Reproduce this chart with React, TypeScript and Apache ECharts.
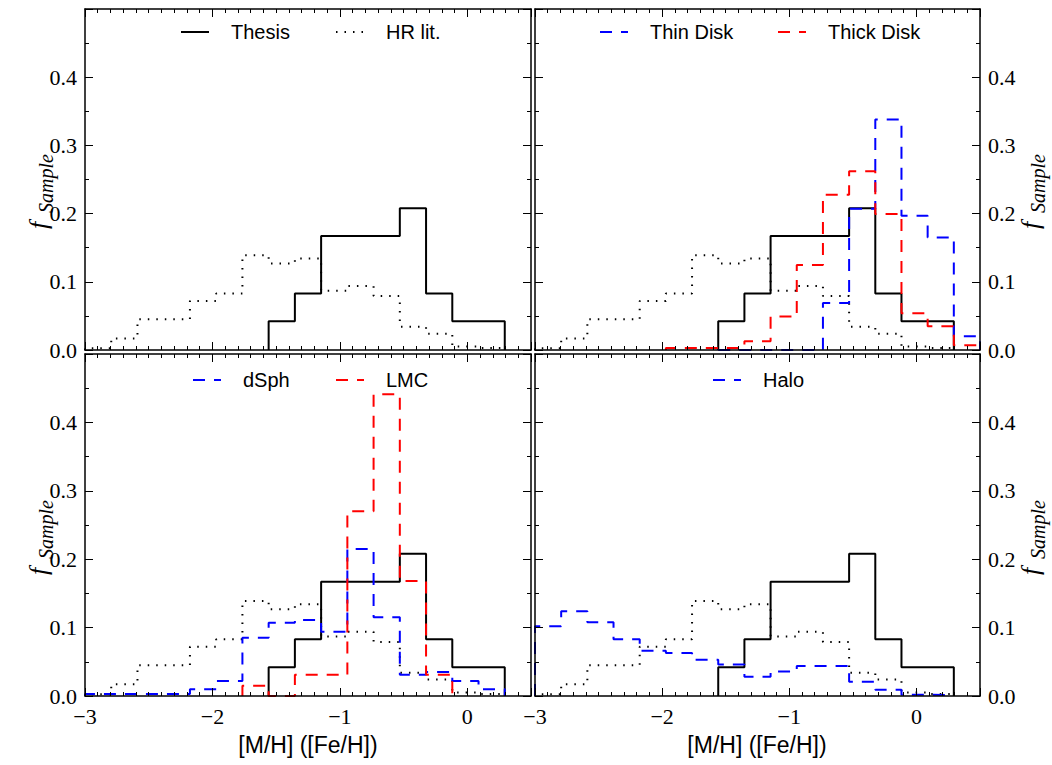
import React, { useEffect, useRef } from "react";
import * as echarts from "echarts";

// Histogram binning: 17 equal bins over [-3, 0.5]
const X_MIN = -3;
const X_MAX = 0.5;
const N_BINS = 17;

// bin values (fraction of sample); *_START = index of first drawn bin
const THESIS_START = 7;
const thesis = [0.042, 0.083, 0.167, 0.167, 0.167, 0.208, 0.083, 0.042, 0.042];

const HR_START = 0;
const hrLit = [0.0025, 0.017, 0.045, 0.045, 0.072, 0.083, 0.139, 0.127, 0.134, 0.087, 0.094, 0.079, 0.034, 0.024, 0.005, 0.003];

const THIN_START = 7;
const thinDisk = [0, 0, 0, 0, 0.069, 0.207, 0.338, 0.197, 0.165, 0.02];

const THICK_START = 5;
const thickDisk = [0.003, 0.003, 0.003, 0.013, 0.049, 0.1245, 0.2275, 0.262, 0.1995, 0.054, 0.035, 0.007];

const DSPH_START = 0;
const dSph = [0.003, 0.003, 0.003, 0.003, 0.01, 0.022, 0.085, 0.107, 0.111, 0.094, 0.215, 0.115, 0.031, 0.035, 0.022, 0.01];

const LMC_START = 6;
const lmc = [0.015, 0, 0.031, 0.031, 0.27, 0.441, 0.168, 0.031];

const HALO_START = 0;
const halo = [0.102, 0.124, 0.108, 0.083, 0.066, 0.063, 0.053, 0.046, 0.028, 0.036, 0.044, 0.044, 0.021, 0.009, 0.002, 0.001];

const xTickLabels = ["\u22123", "\u22122", "\u22121", "0"];
const yTickLabels = ["0.0", "0.1", "0.2", "0.3", "0.4"];
const X_NAME = "[M/H] ([Fe/H])";

const BIN_W = (X_MAX - X_MIN) / N_BINS;
const edge = (k: number) => X_MIN + k * BIN_W;

function stepPoints(start: number, values: number[]) {
  const pts: number[][] = [[edge(start), 0]];
  values.forEach((v, i) => {
    pts.push([edge(start + i), v]);
    pts.push([edge(start + i + 1), v]);
  });
  pts.push([edge(start + values.length), 0]);
  return pts;
}

const GRIDS = [
  { left: 85, top: 9, width: 446, height: 341 },
  { left: 535, top: 9, width: 445, height: 341 },
  { left: 85, top: 354, width: 446, height: 342 },
  { left: 535, top: 354, width: 445, height: 342 },
];

const SERIF = "'Liberation Serif', 'Times New Roman', serif";
const SANS = "'Liberation Sans', Arial, sans-serif";

function xFmt(v: number) {
  const i = Math.round(v);
  if (Math.abs(v - i) > 1e-6) return "";
  const idx = i - X_MIN;
  return xTickLabels[idx] ?? "";
}
function yFmt(v: number) {
  const idx = Math.round(v * 10);
  if (Math.abs(v * 10 - idx) > 1e-6) return "";
  return yTickLabels[idx] ?? "";
}

function buildAxes() {
  const xAxis: any[] = [];
  const yAxis: any[] = [];
  for (let g = 0; g < 4; g++) {
    const bottomRow = g >= 2;
    const rightCol = g % 2 === 1;
    const base = {
      gridIndex: g,
      type: "value",
      z: 10,
      splitLine: { show: false },
      axisLine: { show: true, onZero: false, lineStyle: { color: "#000", width: 1.5 } },
    };
    const tick = (len: number) => ({ show: true, inside: true, length: len, lineStyle: { color: "#000", width: 1 } });
    for (const pos of ["bottom", "top"]) {
      xAxis.push({
        ...base,
        position: pos,
        min: X_MIN,
        max: X_MAX,
        interval: 1,
        axisTick: tick(8),
        axisLabel: {
          show: pos === "bottom" && bottomRow,
          margin: 9,
          fontFamily: SERIF,
          fontSize: 22,
          color: "#000",
          formatter: xFmt,
        },
      });
      xAxis.push({
        ...base,
        position: pos,
        min: X_MIN,
        max: X_MAX,
        interval: 0.1,
        axisLine: { show: false, onZero: false },
        axisTick: tick(4),
        axisLabel: { show: false },
      });
    }
    for (const pos of ["left", "right"]) {
      yAxis.push({
        ...base,
        position: pos,
        min: 0,
        max: 0.5,
        interval: 0.1,
        axisTick: tick(8),
        axisLabel: {
          show: (pos === "left" && !rightCol) || (pos === "right" && rightCol),
          margin: 8,
          fontFamily: SERIF,
          fontSize: 22,
          color: "#000",
          formatter: yFmt,
        },
      });
      yAxis.push({
        ...base,
        position: pos,
        min: 0,
        max: 0.5,
        interval: 0.05,
        axisLine: { show: false, onZero: false },
        axisTick: tick(4),
        axisLabel: { show: false },
      });
    }
  }
  return { xAxis, yAxis };
}

const SOLID = { color: "#000", width: 2, type: "solid" };
const DOTTED = { color: "#000", width: 2, type: [1.5, 7] };
const DASH = [12, 9];

function histSeries(g: number, name: string, start: number, values: number[], lineStyle: any) {
  return {
    type: "line",
    name,
    xAxisIndex: g * 4,
    yAxisIndex: g * 4,
    data: stepPoints(start, values),
    showSymbol: false,
    symbol: "none",
    silent: true,
    z: 2,
    lineStyle,
  };
}

function legendItem(x: number, y: number, label: string, stroke: string, dash: any, width: number) {
  return [
    {
      type: "line",
      shape: { x1: x, y1: y, x2: x + 28, y2: y },
      style: { stroke, lineWidth: width, lineDash: dash },
      silent: true,
    },
    {
      type: "text",
      x: x + 50,
      y,
      style: {
        text: label,
        fontSize: 20,
        fontFamily: SANS,
        fill: "#000",
        align: "left",
        verticalAlign: "middle",
        textAlign: "left",
        textVerticalAlign: "middle",
      },
      silent: true,
    },
  ];
}

function yName(cx: number, cy: number) {
  return {
    type: "group",
    x: cx,
    y: cy,
    rotation: Math.PI / 2,
    silent: true,
    children: [
      {
        type: "text",
        x: -47,
        y: 0,
        style: {
          text: "f",
          fontSize: 26,
          fontStyle: "italic",
          fontFamily: SERIF,
          fill: "#000",
          align: "left",
          verticalAlign: "middle",
          textAlign: "left",
          textVerticalAlign: "middle",
        },
      },
      {
        type: "text",
        x: -31,
        y: 8,
        style: {
          text: "Sample",
          fontSize: 20,
          fontStyle: "italic",
          fontFamily: SERIF,
          fill: "#000",
          align: "left",
          verticalAlign: "middle",
          textAlign: "left",
          textVerticalAlign: "middle",
        },
      },
    ],
  };
}

function xName(cx: number, cy: number) {
  return {
    type: "text",
    x: cx,
    y: cy,
    silent: true,
    style: {
      text: X_NAME,
      fontSize: 23,
      fontFamily: SANS,
      fill: "#000",
      align: "center",
      verticalAlign: "middle",
      textAlign: "center",
      textVerticalAlign: "middle",
    },
  };
}

export default function App() {
  const ref = useRef<HTMLDivElement>(null);
  useEffect(() => {
    if (!ref.current) return;
    const chart = echarts.init(ref.current, null, { renderer: "svg" });
    const { xAxis, yAxis } = buildAxes();
    const series: any[] = [];
    for (let g = 0; g < 4; g++) {
      series.push(histSeries(g, "Thesis", THESIS_START, thesis, SOLID));
      series.push(histSeries(g, "HR lit.", HR_START, hrLit, DOTTED));
    }
    series.push(histSeries(1, "Thin Disk", THIN_START, thinDisk, { color: "#0000ff", width: 2, type: DASH }));
    series.push(histSeries(1, "Thick Disk", THICK_START, thickDisk, { color: "#ff0000", width: 2, type: DASH }));
    series.push(histSeries(2, "dSph", DSPH_START, dSph, { color: "#0000ff", width: 2, type: DASH }));
    series.push(histSeries(2, "LMC", LMC_START, lmc, { color: "#ff0000", width: 2, type: DASH }));
    series.push(histSeries(3, "Halo", HALO_START, halo, { color: "#0000ff", width: 2, type: DASH }));

    const graphic: any[] = [
      ...legendItem(181, 32, "Thesis", "#000", null, 2),
      ...legendItem(336, 32, "HR lit.", "#000", [1.5, 7], 2),
      ...legendItem(600, 32, "Thin Disk", "#0000ff", DASH, 2),
      ...legendItem(778, 32, "Thick Disk", "#ff0000", DASH, 2),
      ...legendItem(193, 380, "dSph", "#0000ff", DASH, 2),
      ...legendItem(336, 380, "LMC", "#ff0000", DASH, 2),
      ...legendItem(713, 380, "Halo", "#0000ff", DASH, 2),
      yName(38, 182),
      yName(1030, 182),
      yName(38, 528),
      yName(1030, 528),
      xName(308, 745),
      xName(757, 745),
    ];

    chart.setOption({
      animation: false,
      backgroundColor: "#fff",
      grid: GRIDS.map((g) => ({ ...g, show: false, containLabel: false })),
      xAxis,
      yAxis,
      series,
      graphic,
    });
    return () => chart.dispose();
  }, []);
  return <div ref={ref} style={{ position: "fixed", left: 0, top: 0, width: 1052, height: 765 }} />;
}
